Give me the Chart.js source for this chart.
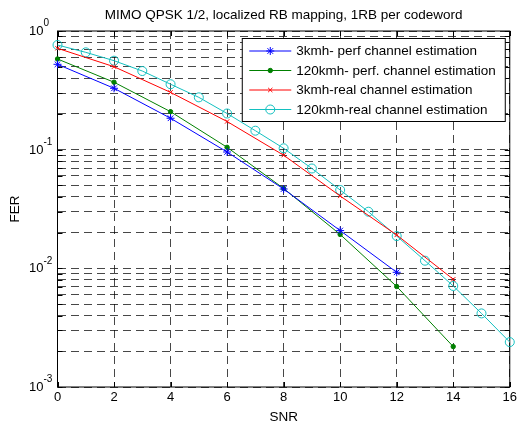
<!DOCTYPE html>
<html>
<head>
<meta charset="utf-8">
<script src="https://cdn.jsdelivr.net/npm/chart.js@4.4.0/dist/chart.umd.min.js"></script>
<style>
  html, body { margin: 0; padding: 0; background: #fff; }
</style>
</head>
<body>
<canvas id="ferChart" width="520" height="425"></canvas>
<script>
// SNR points (dB)
let snrEven = [0, 2, 4, 6, 8, 10, 12, 14]
let snrAll = [0, 1, 2, 3, 4, 5, 6, 7, 8, 9, 10, 11, 12, 13, 14, 15, 16]

// FER per curve
let fer3kmhPerf = [0.524, 0.329, 0.184, 0.0956, 0.0466, 0.0208, 0.00926]
let fer120kmhPerf = [0.581, 0.370, 0.209, 0.1047, 0.0471, 0.0193, 0.00703, 0.00219]
let fer3kmhReal = [0.715, 0.500, 0.304, 0.1727, 0.0898, 0.0407, 0.0191, 0.00809]
let fer120kmhReal = [0.762, 0.661, 0.562, 0.460, 0.356, 0.276, 0.2017, 0.1445, 0.1027, 0.0694,
                     0.0457, 0.0300, 0.0187, 0.0116, 0.0071, 0.00417, 0.00239]

let seriesNames = ["3kmh- perf channel estimation", "120kmh- perf. channel estimation",
                   "3kmh-real channel estimation", "120kmh-real channel estimation"]
let titleText = "MIMO QPSK 1/2, localized RB mapping, 1RB per codeword"

// axis ticks
let xTicks = [0, 2, 4, 6, 8, 10, 12, 14, 16]
let yDecadeExp = [-3, -2, -1, 0]

const FONT = "'Liberation Sans', Arial, Helvetica, sans-serif"

function pairs(xs, ys) {
    return ys.map((v, i) => ({ x: xs[i], y: v }))
}

// title centred over the plot area (not the whole canvas)
const plotTitle = {
    id: "plotTitle",
    afterDraw(chart) {
        const { ctx, chartArea: a } = chart
        ctx.save()
        ctx.fillStyle = "#000"
        ctx.font = "13.5px " + FONT
        ctx.textAlign = "center"
        ctx.textBaseline = "middle"
        ctx.fillText(titleText, (a.left + a.right) / 2, 15)
        ctx.restore()
    }
}

// box round the axes with inward ticks, drawn under the curves
const axesFrame = {
    id: "axesFrame",
    beforeDatasetsDraw(chart) {
        const { ctx, chartArea: a, scales } = chart
        ctx.save()
        ctx.strokeStyle = "#000"
        ctx.lineWidth = 1
        ctx.setLineDash([])
        ctx.strokeRect(a.left, a.top, a.right - a.left, a.bottom - a.top)
        ctx.beginPath()
        scales.x.ticks.forEach(t => {
            const px = Math.round(scales.x.getPixelForValue(t.value)) + 0.5
            ctx.moveTo(px, a.bottom); ctx.lineTo(px, a.bottom - 5)
            ctx.moveTo(px, a.top); ctx.lineTo(px, a.top + 5)
        })
        scales.y.ticks.forEach(t => {
            const py = Math.round(scales.y.getPixelForValue(t.value)) + 0.5
            ctx.moveTo(a.left, py); ctx.lineTo(a.left + 5, py)
            ctx.moveTo(a.right, py); ctx.lineTo(a.right - 5, py)
        })
        ctx.stroke()
        ctx.restore()
    }
}

// 10^n labels on the log axis
const decadeLabels = {
    id: "decadeLabels",
    afterDraw(chart) {
        const { ctx } = chart
        const y = chart.scales.y
        const edge = chart.chartArea.left - 14
        ctx.save()
        ctx.fillStyle = "#000"
        ctx.textBaseline = "middle"
        yDecadeExp.forEach(e => {
            const py = y.getPixelForValue(Math.pow(10, e))
            ctx.font = "13px " + FONT
            ctx.textAlign = "right"
            ctx.fillText("10", edge, py + 0.5)
            ctx.font = "10px " + FONT
            ctx.textAlign = "left"
            ctx.fillText(String(e), edge, py - 7.5)
        })
        ctx.restore()
    }
}

// boxed legend in the upper right corner
const legendBox = {
    id: "legendBox",
    afterDraw(chart) {
        const { ctx, chartArea: a } = chart
        const right = a.right - 4.5
        const left = right - 263
        const top = a.top + 7.5
        ctx.save()
        ctx.fillStyle = "#fff"
        ctx.fillRect(left, top, 263, 83)
        ctx.strokeStyle = "#000"
        ctx.lineWidth = 1
        ctx.strokeRect(left, top, 263, 83)
        chart.data.datasets.forEach((ds, i) => {
            const y = top + 12.5 + i * 19.5
            ctx.strokeStyle = ds.borderColor
            ctx.lineWidth = 1
            ctx.beginPath()
            ctx.moveTo(left + 7, y)
            ctx.lineTo(left + 49, y)
            ctx.stroke()
            ctx.fillStyle = ds.pointBackgroundColor
            Chart.helpers.drawPoint(ctx, {
                pointStyle: ds.pointStyle, radius: ds.pointRadius,
                borderWidth: 1, rotation: 0
            }, left + 28, y)
            ctx.fillStyle = "#000"
            ctx.font = "13.5px " + FONT
            ctx.textAlign = "left"
            ctx.textBaseline = "middle"
            ctx.fillText(ds.label, left + 54, y + 0.5)
        })
        ctx.restore()
    }
}

let ctxFer = document.getElementById("ferChart").getContext("2d")
let ferChart = new Chart(ctxFer, {
    type: "line",
    data: {
        datasets: [{
            label: seriesNames[0],
            data: pairs(snrEven, fer3kmhPerf),
            borderColor: "#0000ff",
            pointBackgroundColor: "#0000ff",
            pointStyle: "star",
            pointRadius: 4
        }, {
            label: seriesNames[1],
            data: pairs(snrEven, fer120kmhPerf),
            borderColor: "#008000",
            pointBackgroundColor: "#008000",
            pointStyle: "circle",
            pointRadius: 2.2
        }, {
            label: seriesNames[2],
            data: pairs(snrEven, fer3kmhReal),
            borderColor: "#ff0000",
            pointBackgroundColor: "#ff0000",
            pointStyle: "crossRot",
            pointRadius: 3
        }, {
            label: seriesNames[3],
            data: pairs(snrAll, fer120kmhReal),
            borderColor: "#13c0c0",
            pointBackgroundColor: "rgba(0,0,0,0)",
            pointStyle: "circle",
            pointRadius: 4.5
        }]
    },
    options: {
        responsive: false,
        animation: false,
        layout: { padding: { left: 0, right: 7, top: 31, bottom: 0 } },
        elements: {
            line: { borderWidth: 1, tension: 0, fill: false },
            point: { borderWidth: 1, hoverRadius: 4 }
        },
        datasets: { line: { clip: false } },
        scales: {
            x: {
                type: "linear",
                min: 0,
                max: 16,
                afterBuildTicks: scale => { scale.ticks = xTicks.map(v => ({ value: v })) },
                afterFit: scale => { scale.height = 38 },
                ticks: { color: "#000", font: { size: 13, family: FONT }, padding: 3, autoSkip: false },
                grid: { color: "rgba(0,0,0,0.72)", lineWidth: 1, drawTicks: false },
                border: { display: false, dash: [8, 5] },
                title: {
                    display: true, text: "SNR", color: "#000",
                    font: { size: 13.5, family: FONT }, padding: { top: 0, bottom: 0 }
                }
            },
            y: {
                type: "logarithmic",
                min: 0.001,
                max: 1,
                afterBuildTicks: scale => {
                    const t = []
                    yDecadeExp.forEach(e => {
                        const base = Math.pow(10, e)
                        if (e === 0) { t.push({ value: 1 }); return }
                        for (let m = 1; m < 10; m++) t.push({ value: Number((m * base).toPrecision(3)) })
                    })
                    scale.ticks = t
                },
                afterFit: scale => { scale.width = 57.5 },
                ticks: { display: false },
                grid: { color: "rgba(0,0,0,0.72)", lineWidth: 1, drawTicks: false },
                border: { display: false, dash: [8, 5] },
                title: {
                    display: true, text: "FER", color: "#000",
                    font: { size: 13.5, family: FONT }, padding: { top: 7, bottom: 0 }
                }
            }
        },
        plugins: {
            legend: { display: false },
            tooltip: { enabled: false },
            title: { display: false }
        }
    },
    plugins: [axesFrame, decadeLabels, legendBox, plotTitle]
})
</script>
</body>
</html>
